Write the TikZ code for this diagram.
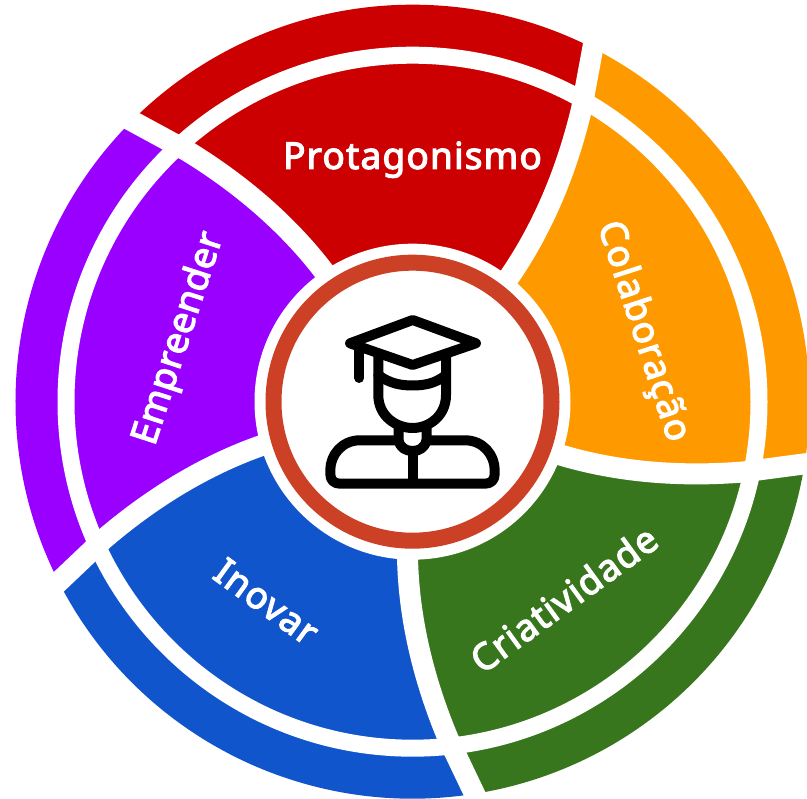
\documentclass[tikz,border=0pt]{standalone}
\usepackage{fontspec}
\newfontfamily\labelfont{Noto Sans}[FakeBold=3.2,LetterSpace=3.2]
\definecolor{cred}{HTML}{CC0000}
\definecolor{corange}{HTML}{FF9900}
\definecolor{cgreen}{HTML}{38761D}
\definecolor{cblue}{HTML}{1155CC}
\definecolor{cpurple}{HTML}{9900FF}
\definecolor{cring}{HTML}{CC4125}
\tikzset{
  seg/.style={draw=none},
  sepline/.style={draw=white,line width=21pt,line cap=butt,line join=round},
  whiteband/.style={draw=white,line width=17pt,fill=none},
  iconline/.style={draw=black,line width=10pt,line cap=round,line join=round},
  seglabel/.style={text=white,font=\labelfont\fontsize{37}{42}\selectfont,inner sep=0pt,anchor=center}
}
% \sector{colour}{base angle}: the region between the separators at base angle and base angle+72
\newcommand{\sector}[2]{%
  \fill[seg,#1] (#2+0:145) -- (#2+1.36:196.5) -- (#2+3.5:246) -- (#2+5.75:293) -- (#2+8:338) -- (#2+11:397)
    arc[start angle=#2+11,end angle=#2+83,radius=397]
    -- (#2+80:338) -- (#2+77.75:293) -- (#2+75.5:246) -- (#2+73.36:196.5) -- (#2+72:145) -- cycle;}
\newcommand{\sepcurve}[1]{%
  \begin{scope}[rotate=#1]
  \draw[sepline] (145,0) .. controls (215,2) and (280,22) .. (334.7,47) -- (405.7,84);
  \end{scope}}
\begin{document}
\begin{tikzpicture}[x=1pt,y=1pt]
\useasboundingbox (0,0) rectangle (807,799);
\clip (0,0) rectangle (807,799);
\begin{scope}[shift={(412.5,397.3)}]
  \sector{corange}{-20}
  \sector{cred}{52}
  \sector{cpurple}{124}
  \sector{cblue}{196}
  \sector{cgreen}{268}
  \draw[whiteband] (0,0) circle[radius=346.5];
  \fill[white] (0,0) circle[radius=158];
  \foreach \a in {-20,52,124,196,268} {\sepcurve{\a}}
  \node[circle,draw=cring,line width=16pt,fill=white,minimum size=278pt,inner sep=0pt] (hub) at (0,0) {};
  \node[seglabel] (prot) at (0,242) {Protagonismo};
  \node[seglabel,rotate=-72] (cola) at (230,70) {Colaboração};
  \node[seglabel,rotate=36] (cria) at (151,-197) {Criatividade};
  \node[seglabel,rotate=-36] (inov) at (-146,-200) {Inovar};
  \node[seglabel,rotate=72] (empr) at (-233,63) {\addfontfeature{LetterSpace=1.5}Empreender};
\end{scope}
% icon, in reference pixel coordinates
\begin{scope}[x=1pt,y=-1pt,shift={(0,-799)}]
  \draw[iconline] (350,343.3) -- (412.7,320) -- (476,343.3) -- (412.7,365) -- cycle;
  \draw[iconline] (359.3,345) -- (359.3,378);
  \draw[iconline] (378.3,356) -- (378.3,395) .. controls (378.3,416) and (396,428) .. (412.7,428) .. controls (429,428) and (446,416) .. (446,395) -- (446,356);
  \draw[iconline] (378.3,375) .. controls (390,384) and (402,385.5) .. (412.7,385.5) .. controls (423,385.5) and (435,384) .. (446,375);
  \draw[iconline,line cap=butt] (398.5,426) -- (398.5,440) .. controls (400,448) and (406,451) .. (412.7,451) .. controls (419,451) and (425,448) .. (426.5,440) -- (426.5,426);
  \draw[iconline] (398.5,440.3) -- (360,440.3) .. controls (342,440.3) and (330.3,455) .. (330.3,470) -- (330.3,474) .. controls (330.3,480) and (334,483.7) .. (340,483.7) -- (485,483.7) .. controls (491,483.7) and (494.7,480) .. (494.7,474) -- (494.7,470) .. controls (494.7,455) and (483,440.3) .. (465,440.3) -- (426.5,440.3);
  \draw[iconline,line cap=butt] (412.7,451) -- (412.7,483.7);
\end{scope}
\end{tikzpicture}
\end{document}
